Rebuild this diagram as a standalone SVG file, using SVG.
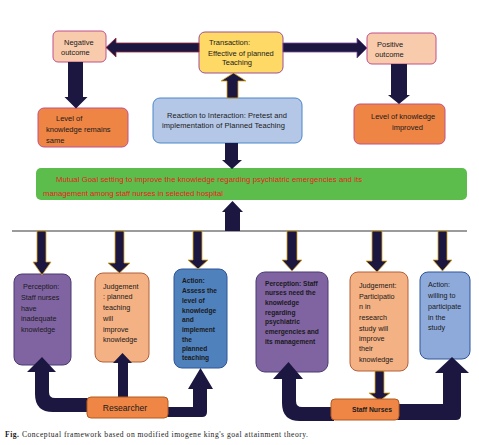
<svg xmlns="http://www.w3.org/2000/svg" width="479" height="445" viewBox="0 0 479 445">
<style>
text{font-family:"Liberation Sans",Arial,sans-serif;fill:#1a1a1a}
.t{font-size:7.5px}
.b{font-size:7.2px}
.bb{font-size:6.6px;font-weight:bold}
.arr{fill:#1c1740}
.ay{fill:#1c1740;stroke:#d9a520;stroke-width:0.8}
.pk{fill:#f8cbad;stroke:#c0508a;stroke-width:1}
.or{fill:#ee8545;stroke:#c0508a;stroke-width:1}
.pu{fill:#8064a2;stroke:#4b3a6e;stroke-width:1}
.lo{fill:#f4b183;stroke:#b0603a;stroke-width:1}
</style>
<rect width="479" height="445" fill="#ffffff"/>

<g id="n-negative"><rect class="pk" x="53" y="31" width="53" height="31" rx="5"/>
<text class="t" x="64" y="44.5">Negative</text><text class="t" x="61" y="55">outcome</text></g>
<g id="n-transaction"><rect x="199" y="32" width="84" height="41" rx="6" fill="#ffd966" stroke="#9b4f96" stroke-width="1"/>
<text class="t" x="209" y="44.5">Transaction:</text><text class="t" x="208" y="55.5">Effective of planned</text><text class="t" x="222" y="64.5">Teaching</text></g>
<g id="n-positive"><rect class="pk" x="367" y="33" width="69" height="31" rx="5"/>
<text class="t" x="377" y="46.5">Positive</text><text class="t" x="375" y="56.5">outcome</text></g>
<g id="n-same"><rect class="or" x="38" y="108" width="90" height="39" rx="6"/>
<text class="t" x="56" y="120.5">Level of</text><text class="t" x="46" y="131.5">knowledge remains</text><text class="t" x="46" y="142.5">same</text></g>
<g id="n-improved"><rect class="or" x="354" y="104" width="91" height="40" rx="6"/>
<text class="t" x="371" y="118.5">Level of knowledge</text><text class="t" x="392" y="129.5">improved</text></g>
<g id="n-reaction"><rect x="153" y="98" width="149" height="45" rx="7" fill="#b4c7e7" stroke="#4a86c8" stroke-width="1"/>
<text class="t" x="167" y="117.5" textLength="120">Reaction to Interaction: Pretest and</text><text class="t" x="162" y="127.5" textLength="123">implementation of Planned Teaching</text></g>
<g id="n-goal"><rect x="36" y="168" width="431" height="32" rx="5" fill="#5cbd4c"/>
<text x="56" y="181.5" font-size="7.7" style="fill:#e4231d" textLength="306">Mutual  Goal setting to improve the knowledge regarding psychiatric emergencies and its</text>
<text x="43" y="195.5" font-size="7.7" style="fill:#e4231d" textLength="180">management among staff nurses in selected hospital</text></g>

<g id="n-perc1"><rect class="pu" x="14" y="274" width="57" height="91" rx="8"/>
<text class="b" x="23" y="288.5">Perception:</text><text class="b" x="21" y="299.5">Staff nurses</text><text class="b" x="21" y="310.5">have</text><text class="b" x="21" y="320.5">inadequate</text><text class="b" x="21" y="331.5">knowledge</text></g>
<g id="n-judg1"><rect class="lo" x="95" y="273" width="54" height="89" rx="8"/>
<text class="b" x="103" y="288.5">Judgement</text><text class="b" x="103" y="298.5">: planned</text><text class="b" x="103" y="309.5">teaching</text><text class="b" x="103" y="320.5">will</text><text class="b" x="103" y="331.5">improve</text><text class="b" x="103" y="341.5">knowledge</text></g>
<g id="n-act1"><rect x="174" y="269" width="53" height="99" rx="8" fill="#4f81bd" stroke="#2f5597" stroke-width="1"/>
<text class="bb" x="182" y="282.5">Action:</text><text class="bb" x="182" y="292.5">Assess the</text><text class="bb" x="182" y="302.5">level of</text><text class="bb" x="182" y="312.5">knowledge</text><text class="bb" x="182" y="321.5">and</text><text class="bb" x="182" y="331.5">implement</text><text class="bb" x="182" y="341.5">the</text><text class="bb" x="182" y="350.5">planned</text><text class="bb" x="182" y="359.5">teaching</text></g>
<g id="n-perc2"><rect class="pu" x="256" y="272" width="72" height="100" rx="9"/>
<text class="bb" x="265" y="285.5">Perception: Staff</text><text class="bb" x="265" y="295.2">nurses need the</text><text class="bb" x="265" y="304.9">knowledge</text><text class="bb" x="265" y="314.5">regarding</text><text class="bb" x="265" y="324.3">psychiatric</text><text class="bb" x="265" y="334">emergencies and</text><text class="bb" x="265" y="343.7">its management</text></g>
<g id="n-judg2"><rect class="lo" x="350" y="272" width="58" height="99" rx="8"/>
<text class="b" x="359" y="287.5">Judgement:</text><text class="b" x="359" y="298.5">Participatio</text><text class="b" x="359" y="308.5">n in</text><text class="b" x="359" y="319.5">research</text><text class="b" x="359" y="330.5">study will</text><text class="b" x="359" y="340.5">improve</text><text class="b" x="359" y="350.5">their</text><text class="b" x="359" y="361.5">knowledge</text></g>
<g id="n-act2"><rect x="420" y="272" width="50" height="87" rx="8" fill="#8eaadb" stroke="#2f5597" stroke-width="1"/>
<text class="b" x="428" y="286.5">Action:</text><text class="b" x="428" y="297.5">willing to</text><text class="b" x="428" y="308.5">participate</text><text class="b" x="428" y="319.5">in the</text><text class="b" x="428" y="329.5">study</text></g>

<g id="connectors">
<line x1="12" y1="231" x2="467" y2="231" stroke="#7a7a7a" stroke-width="1.5"/>
<polygon class="arr" stroke="#a0283c" stroke-width="0.8" points="199,43 116,43 116,38 106,47.5 116,57 116,52 199,52"/>
<polygon class="arr" stroke="#7a4a9a" stroke-width="0.8" points="283,43 357,43 357,38 367,48 357,58 357,52 283,52"/>
<polygon class="arr" points="68,62 83,62 83,97 87.5,97 76,108.5 64.5,97 68,97"/>
<polygon class="arr" points="391,64 407,64 407,95 410,95 399,104 388,95 391,95"/>
<polygon class="ay" points="227,98 227,81 221,81 233.5,73 246,81 238,81 238,98"/>
<polygon class="arr" points="225,143 238,143 238,160 242,160 232,169 222,160 225,160"/>
<polygon class="arr" points="225,231 225,212 222,212 232.5,201 243,212 240,212 240,231"/>
<polygon class="ay" points="37,231 46,231 46,262 51,262 42,275 33,262 37,262"/>
<polygon class="ay" points="115,231 124,231 124,263 130,263 119.5,273 108,263 115,263"/>
<polygon class="ay" points="193,231 202,231 202,260 208,260 198,269 188,260 193,260"/>
<polygon class="ay" points="287,231 297,231 297,260 302,260 292,271 282,260 287,260"/>
<polygon class="ay" points="372,231 382,231 382,261 387,261 377,272 366,261 372,261"/>
<polygon class="ay" points="438,231 447,231 447,260 452,260 442.5,271 433,260 438,260"/>
<path class="arr" d="M90,398 L55,398 Q49,398 49,392 L49,372 L56,372 L42,357 L27,372 L35,372 L35,394 Q35,412 53,412 L90,412 Z"/>
<polygon class="arr" points="118,400 118,363 113,363 122.5,353 132,363 128,363 128,400"/>
<path class="arr" d="M165,407 L193,407 L193,389 L188,389 L200.5,368 L213,389 L207,389 L207,412 Q207,417 202,417 L165,417 Z"/>
<path class="arr" d="M334,407 L302,407 Q296,407 296,401 L296,379 L303,379 L288.5,362 L273,379 L282,379 L282,403 Q282,421 300,421 L334,421 Z"/>
<path class="arr" d="M396,404 L443,404 L443,373 L435,373 L452,357 L469,373 L461,373 L461,415 Q461,420 456,420 L396,420 Z"/>
<polygon class="ay" points="375,371 384,371 384,393 390,393 379.5,401 369,393 375,393"/>
</g>

<g id="n-researcher"><rect x="87" y="397" width="81" height="21" rx="4" fill="#ef8646" stroke="#b05a20" stroke-width="1"/>
<text x="125" y="410.5" font-size="8.6" text-anchor="middle">Researcher</text></g>
<g id="n-staff"><rect x="331" y="399" width="68" height="21" rx="4" fill="#ef8646" stroke="#b05a20" stroke-width="1"/>
<text x="372" y="412" font-size="6.8" font-weight="bold" text-anchor="middle">Staff Nurses</text></g>

<text x="5" y="437" font-size="7.6" style="font-family:'Liberation Serif','Times New Roman',serif" textLength="303"><tspan font-weight="bold">Fig.</tspan> Conceptual framework based on modified imogene king's goal attainment theory.</text>
</svg>
